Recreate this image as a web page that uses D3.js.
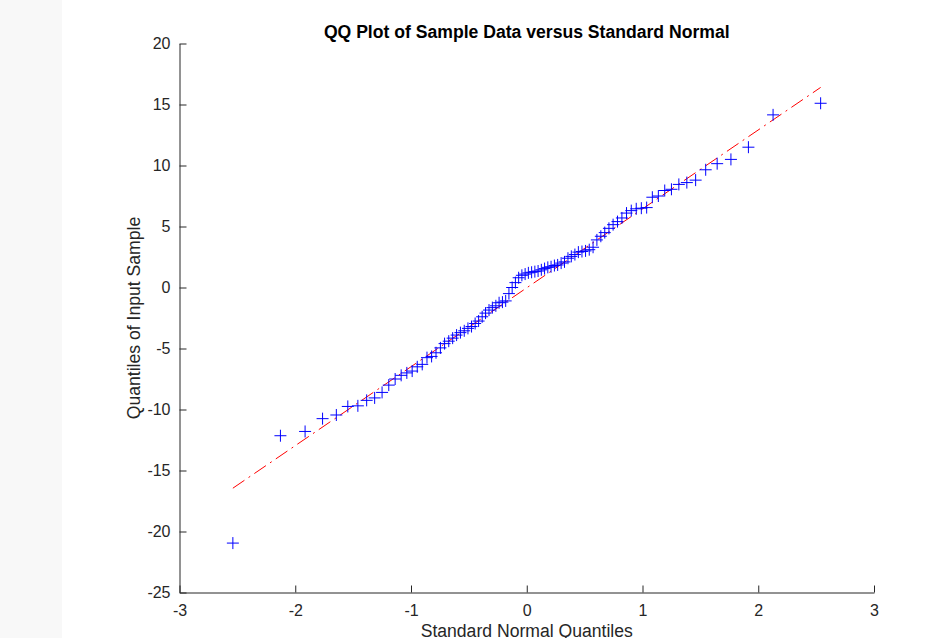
<!DOCTYPE html>
<html>
<head>
<meta charset="utf-8">
<script src="https://cdn.jsdelivr.net/npm/d3@7"></script>
<style>
  html, body { margin: 0; padding: 0; background: #ffffff; }
  svg { display: block; }
  text { font-family: "Liberation Sans", Arial, Helvetica, sans-serif; }
</style>
</head>
<body>
<svg id="chart" width="933" height="638"></svg>
<script>
// Theoretical standard normal quantiles (x) and sorted sample quantiles (y)
const xQuantiles = [
  -2.539, -2.128, -1.915, -1.764, -1.645, -1.546, -1.459, -1.383, -1.314, -1.250,
  -1.192, -1.137, -1.085, -1.036, -0.990, -0.946, -0.903, -0.862, -0.822, -0.784,
  -0.746, -0.710, -0.674, -0.640, -0.606, -0.573, -0.540, -0.508, -0.477, -0.446,
  -0.416, -0.385, -0.356, -0.326, -0.297, -0.267, -0.239, -0.210, -0.182, -0.154,
  -0.126, -0.098, -0.070, -0.042, -0.014,
   0.014,  0.042,  0.070,  0.098,  0.126,  0.154,  0.182,  0.210,  0.239,  0.267,
   0.297,  0.326,  0.356,  0.385,  0.416,  0.446,  0.477,  0.508,  0.540,  0.573,
   0.606,  0.640,  0.674,  0.710,  0.746,  0.784,  0.822,  0.862,  0.903,  0.946,
   0.990,  1.036,  1.085,  1.137,  1.192,  1.250,  1.314,  1.383,  1.459,  1.546,
   1.645,  1.764,  1.915,  2.128,  2.539
];
const sampleQuantiles = [
  -20.95, -12.15, -11.80, -10.75, -10.45, -9.75, -9.70, -9.25, -9.05, -8.60,
  -8.00, -7.50, -7.20, -7.00, -6.85, -6.50, -6.30, -5.75, -5.65, -5.35,
  -4.95, -4.60, -4.40, -4.15, -3.90, -3.70, -3.55, -3.35, -3.20, -2.95,
  -2.75, -2.40, -2.10, -1.85, -1.65, -1.50, -1.25, -1.20, -1.10, -0.50,
  0.00, 0.40, 0.80, 1.00, 1.10,
  1.20, 1.25, 1.30, 1.35, 1.45, 1.55, 1.65, 1.70, 1.80, 1.85,
  2.00, 2.10, 2.40, 2.55, 2.70, 2.90, 2.95, 3.00, 3.10, 3.30,
  3.90, 4.20, 4.50, 4.85, 5.15, 5.40, 5.70, 6.10, 6.30, 6.45,
  6.50, 6.55, 7.40, 7.50, 7.95, 8.05, 8.45, 8.60, 8.80, 9.65,
  10.15, 10.50, 11.50, 14.15, 15.10
];
// Reference line endpoints
const refLineX = [-2.539, 2.539];
const refLineY = [-16.45, 16.40];

const xTicks = [-3, -2, -1, 0, 1, 2, 3];
const yTicks = [-25, -20, -15, -10, -5, 0, 5, 10, 15, 20];

const titleText = "QQ Plot of Sample Data versus Standard Normal";
const xLabelText = "Standard Normal Quantiles";
const yLabelText = "Quantiles of Input Sample";

const svg = d3.select("#chart");
const axisColor = "#262626";

// left gray strip
svg.append("rect").attr("x", 0).attr("y", 0).attr("width", 62).attr("height", 638).attr("fill", "#f8f8f8");

const x = d3.scaleLinear().domain([-3, 3]).range([179.5, 874]);
const y = d3.scaleLinear().domain([-25, 20]).range([592.5, 43.5]);

// Axes
const xAxis = d3.axisBottom(x).tickValues(xTicks).tickSizeInner(-7).tickSizeOuter(0).tickPadding(12)
  .tickFormat(d => String(d));
const yAxis = d3.axisLeft(y).tickValues(yTicks).tickSizeInner(-7).tickSizeOuter(0).tickPadding(9)
  .tickFormat(d => String(d));

const gx = svg.append("g").attr("transform", `translate(0,${y(-25)})`).call(xAxis);
const gy = svg.append("g").attr("transform", `translate(${x(-3)},0)`).call(yAxis);
[gx, gy].forEach(g => {
  g.select(".domain").attr("stroke", axisColor).attr("stroke-width", 1);
  g.selectAll(".tick line").attr("stroke", axisColor).attr("stroke-width", 1);
  g.selectAll(".tick text").attr("fill", axisColor)
    .style("font-family", '"Liberation Sans", Arial, Helvetica, sans-serif')
    .style("font-size", "16px");
});

// Reference line (dash-dot red)
svg.append("path")
  .datum(refLineX.map((d, i) => [d, refLineY[i]]))
  .attr("fill", "none")
  .attr("stroke", "#ff0000")
  .attr("stroke-width", 1)
  .attr("stroke-dasharray", "14,5,2,5")
  .attr("d", d3.line().x(d => x(d[0])).y(d => y(d[1])));

// Data markers '+'
const pts = xQuantiles.map((d, i) => [d, sampleQuantiles[i]]);
const ms = 6;
svg.append("g").selectAll("path").data(pts).join("path")
  .attr("fill", "none")
  .attr("stroke", "#0000ff")
  .attr("stroke-width", 1)
  .attr("d", d => {
    const cx = x(d[0]), cy = y(d[1]);
    return `M${cx - ms},${cy}H${cx + ms}M${cx},${cy - ms}V${cy + ms}`;
  });

// Title
svg.append("text").attr("x", x(0)).attr("y", 38).attr("text-anchor", "middle")
  .attr("fill", "#000").style("font-size", "17.6px").style("font-weight", "bold")
  .text(titleText);

// X label
svg.append("text").attr("x", x(0)).attr("y", 637).attr("text-anchor", "middle")
  .attr("fill", axisColor).style("font-size", "17.6px").text(xLabelText);

// Y label
svg.append("text").attr("transform", `translate(140,${y(-2.5)}) rotate(-90)`)
  .attr("text-anchor", "middle").attr("fill", axisColor).style("font-size", "17.6px").text(yLabelText);
</script>
</body>
</html>
